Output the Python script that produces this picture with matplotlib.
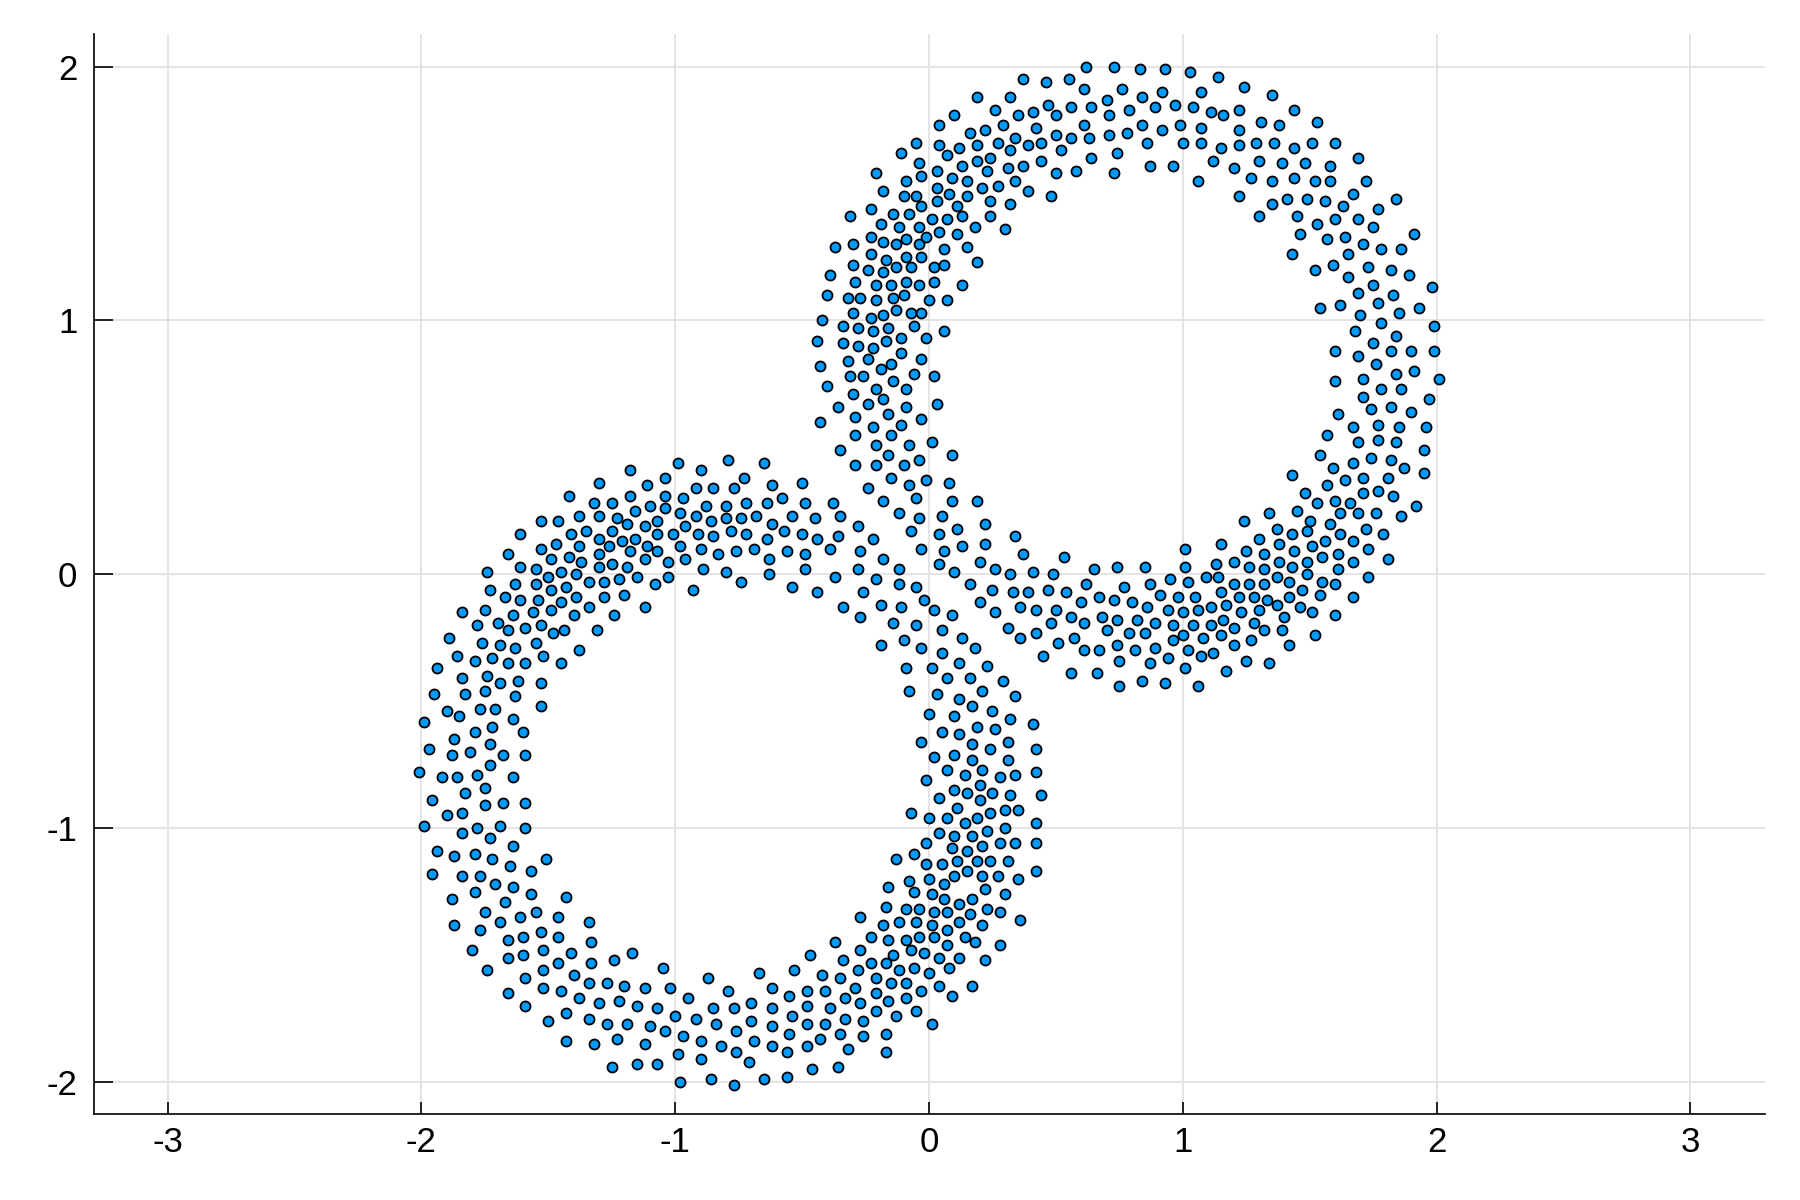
import matplotlib
matplotlib.use("Agg")
import matplotlib.pyplot as plt
import numpy as np

# ---- data: (x, y) of every point, read region by region from the reference ----
top_left = [(0.19,1.88),(0.32,1.88),(0.26,1.83),(0.10,1.81),(0.04,1.77),(0.16,1.74),(0.22,1.75),(0.29,1.77),
(-0.05,1.70),(-0.11,1.66),(0.04,1.69),(0.12,1.68),(0.19,1.69),(0.27,1.70),(0.32,1.67),(0.07,1.65),(-0.04,1.62),
(0.13,1.61),(0.19,1.63),(0.24,1.64),(0.23,1.59),(0.31,1.60),(-0.03,1.57),(0.03,1.59),(-0.21,1.58),(0.09,1.56),
(0.15,1.55),(-0.09,1.55),(-0.18,1.51),(-0.10,1.49),(-0.05,1.49),(0.03,1.52),(0.08,1.50),(0.15,1.49),(0.21,1.52),
(0.27,1.53),(0.24,1.47),(0.32,1.46),(-0.23,1.44),(-0.31,1.41),(-0.03,1.45),(0.03,1.47),(0.11,1.45),(-0.14,1.42),
(-0.08,1.42),(-0.19,1.38),(-0.12,1.37),(-0.04,1.37),(0.01,1.40),(0.07,1.40),(0.13,1.41),(0.18,1.37),(0.24,1.41),
(0.30,1.36),(-0.37,1.29),(-0.30,1.30),(-0.23,1.33),(-0.18,1.31),(-0.13,1.30),(-0.09,1.32),(-0.04,1.30),(-0.01,1.33),
(0.04,1.35),(0.11,1.34),(0.15,1.29),(-0.23,1.26),(-0.17,1.24),(-0.09,1.25),(-0.03,1.25),(0.06,1.28),(0.19,1.23),
(-0.39,1.18),(-0.30,1.22),(-0.24,1.20),(-0.18,1.19),(-0.13,1.21),(-0.07,1.21),(0.02,1.21),(0.06,1.22),(-0.29,1.15),
(-0.21,1.14),(-0.15,1.14),(-0.09,1.15),(-0.04,1.14),(0.02,1.15),(0.13,1.14),(-0.40,1.10),(-0.32,1.09),(-0.27,1.09),
(-0.21,1.08),(-0.14,1.09),(-0.10,1.10),(0.00,1.08),(0.07,1.08),(-0.42,1.00),(-0.30,1.03),(-0.23,1.01),(-0.18,1.02),
(-0.13,1.04),(-0.07,1.03),(-0.03,1.03),(-0.34,0.98),(-0.28,0.97),(-0.22,0.96),(-0.16,0.97),(-0.06,0.98),(0.06,0.96),
(-0.44,0.92),(-0.34,0.91),(-0.28,0.90),(-0.22,0.89),(-0.17,0.92),(-0.11,0.93),(-0.01,0.93),(-0.43,0.82),(-0.32,0.84),
(-0.24,0.85),(-0.19,0.81),(-0.15,0.83),(-0.11,0.87),(-0.03,0.85),(-0.06,0.79)]

top_mid = [(0.37,1.95),(0.46,1.94),(0.55,1.95),(0.62,2.00),(0.73,2.00),(0.83,1.99),(0.93,1.99),(1.03,1.98),
(1.14,1.96),(0.61,1.91),(0.76,1.91),(0.92,1.90),(1.07,1.90),(0.47,1.85),(0.41,1.82),(0.35,1.81),(0.50,1.81),
(0.56,1.84),(0.64,1.84),(0.70,1.87),(0.71,1.81),(0.79,1.83),(0.84,1.88),(0.89,1.84),(0.97,1.85),(1.04,1.84),
(1.11,1.82),(1.16,1.81),(0.42,1.76),(0.61,1.77),(0.84,1.77),(0.92,1.75),(0.99,1.77),(1.07,1.76),(0.34,1.72),
(0.39,1.69),(0.44,1.70),(0.50,1.73),(0.56,1.72),(0.63,1.72),(0.71,1.73),(0.78,1.74),(0.52,1.67),(0.64,1.64),
(0.74,1.66),(0.86,1.70),(1.00,1.70),(1.07,1.70),(1.15,1.68),(0.37,1.61),(0.44,1.63),(0.50,1.58),(0.58,1.59),
(0.73,1.58),(0.87,1.61),(0.96,1.61),(1.12,1.63),(0.34,1.55),(1.06,1.55),(0.39,1.51),(0.48,1.49)]

top_right = [(1.24,1.92),(1.35,1.89),(1.22,1.83),(1.44,1.83),(1.31,1.78),(1.38,1.77),(1.53,1.78),(1.22,1.75),
(1.22,1.69),(1.29,1.70),(1.36,1.70),(1.44,1.68),(1.51,1.70),(1.60,1.70),(1.69,1.64),(1.20,1.60),(1.30,1.63),
(1.39,1.62),(1.48,1.62),(1.58,1.61),(1.27,1.56),(1.35,1.55),(1.44,1.56),(1.52,1.55),(1.58,1.55),(1.72,1.55),
(1.22,1.49),(1.35,1.46),(1.41,1.48),(1.49,1.48),(1.56,1.47),(1.63,1.45),(1.67,1.50),(1.77,1.44),(1.84,1.48),
(1.30,1.41),(1.45,1.41),(1.53,1.38),(1.60,1.40),(1.69,1.40),(1.75,1.37),(1.46,1.34),(1.57,1.32),(1.64,1.33),
(1.71,1.30),(1.78,1.28),(1.86,1.28),(1.91,1.34),(1.43,1.26),(1.52,1.20),(1.59,1.22),(1.65,1.26),(1.73,1.21),
(1.82,1.20),(1.89,1.18),(1.65,1.17),(1.75,1.14),(1.69,1.11),(1.83,1.10),(1.98,1.13),(1.54,1.05),(1.62,1.06),
(1.77,1.07),(1.85,1.03),(1.93,1.05),(1.70,1.02),(1.78,0.99),(1.99,0.98),(1.68,0.96),(1.84,0.94),(1.75,0.91),
(1.60,0.88),(1.69,0.86),(1.76,0.83),(1.82,0.88),(1.90,0.88),(1.99,0.88),(1.84,0.79),(1.91,0.80)]

right_side = [(1.60,0.76),(1.71,0.77),(2.01,0.77),(1.71,0.70),(1.78,0.73),(1.86,0.73),(1.97,0.69),(1.61,0.63),
(1.74,0.65),(1.82,0.66),(1.90,0.64),(1.67,0.58),(1.77,0.59),(1.85,0.58),(1.96,0.58),(1.57,0.55),(1.69,0.52),
(1.77,0.53),(1.84,0.52),(1.95,0.49),(1.54,0.47),(1.67,0.44),(1.74,0.46),(1.82,0.45),(1.87,0.42),(1.95,0.40),
(1.43,0.39),(1.59,0.42),(1.64,0.37),(1.71,0.38),(1.81,0.38),(1.57,0.35),(1.71,0.32),(1.77,0.33),(1.83,0.31),
(1.48,0.32),(1.53,0.28),(1.60,0.29),(1.66,0.28),(1.92,0.27),(1.34,0.24),(1.45,0.25),(1.50,0.21),(1.62,0.24),
(1.69,0.24),(1.76,0.24),(1.86,0.23),(1.24,0.21),(1.37,0.18),(1.43,0.16),(1.49,0.17),(1.58,0.20),(1.62,0.16),
(1.72,0.18),(1.79,0.16),(1.30,0.14),(1.38,0.12),(1.51,0.11),(1.56,0.13),(1.67,0.13),(1.73,0.10),(1.25,0.09),
(1.32,0.08),(1.44,0.09),(1.61,0.08),(1.81,0.06),(1.20,0.05),(1.26,0.03),(1.32,0.02),(1.38,0.05),(1.43,0.03),
(1.49,0.05),(1.55,0.07),(1.49,0.00),(1.61,0.02),(1.67,0.05),(1.73,-0.01),(1.20,-0.04),(1.26,-0.04),(1.32,-0.04),
(1.37,-0.01),(1.42,-0.03),(1.55,-0.03),(1.60,-0.04),(1.22,-0.09),(1.28,-0.09),(1.33,-0.10),(1.42,-0.09),
(1.47,-0.06),(1.54,-0.08),(1.67,-0.09),(1.17,-0.12),(1.23,-0.15),(1.30,-0.14),(1.37,-0.12),(1.40,-0.17),
(1.46,-0.13),(1.51,-0.15),(1.60,-0.16),(1.20,-0.21),(1.28,-0.19),(1.32,-0.22),(1.39,-0.22),(1.27,-0.26),
(1.20,-0.28),(1.42,-0.28),(1.52,-0.24),(1.25,-0.34),(1.34,-0.35),(1.17,-0.38)]

bottom_mid = [(0.37,0.08),(0.53,0.07),(1.01,0.10),(1.15,0.12),(0.41,0.01),(0.49,0.00),(0.65,0.02),(0.74,0.03),
(0.85,0.03),(1.01,0.03),(1.13,0.04),(0.39,-0.07),(0.47,-0.06),(0.54,-0.07),(0.62,-0.04),(0.77,-0.05),(0.87,-0.04),
(0.95,-0.02),(1.02,-0.03),(1.09,-0.01),(1.14,-0.01),(1.15,-0.07),(0.67,-0.09),(0.73,-0.10),(0.80,-0.11),
(0.91,-0.08),(0.98,-0.09),(1.05,-0.09),(0.36,-0.13),(0.42,-0.14),(0.50,-0.14),(0.60,-0.11),(0.86,-0.13),
(0.94,-0.14),(1.00,-0.15),(1.06,-0.14),(1.11,-0.13),(0.48,-0.19),(0.56,-0.17),(0.61,-0.19),(0.68,-0.17),
(0.74,-0.18),(0.82,-0.18),(0.89,-0.19),(0.96,-0.20),(1.04,-0.20),(1.11,-0.20),(1.16,-0.18),(0.36,-0.25),
(0.42,-0.23),(0.51,-0.27),(0.57,-0.25),(0.70,-0.22),(0.79,-0.23),(0.85,-0.23),(1.00,-0.24),(1.08,-0.25),
(1.15,-0.24),(0.61,-0.30),(0.67,-0.30),(0.74,-0.28),(0.81,-0.30),(0.89,-0.29),(0.96,-0.26),(1.02,-0.30),
(1.07,-0.32),(1.12,-0.31),(0.45,-0.32),(0.75,-0.34),(0.87,-0.35),(0.94,-0.33),(0.56,-0.39),(0.66,-0.39),
(1.01,-0.37),(0.75,-0.44),(0.84,-0.42),(0.93,-0.43),(1.06,-0.44),(0.34,-0.48)]

centre_upper = [(-0.31,0.78),(-0.26,0.78),(-0.14,0.76),(0.02,0.78),(-0.40,0.74),(-0.21,0.73),(-0.09,0.73),
(-0.30,0.71),(-0.18,0.69),(-0.36,0.66),(-0.24,0.67),(-0.09,0.66),(0.03,0.67),(-0.43,0.60),(-0.29,0.62),
(-0.16,0.63),(-0.22,0.58),(-0.11,0.59),(-0.03,0.61),(-0.29,0.55),(-0.15,0.55),(-0.35,0.49),(-0.21,0.51),
(-0.08,0.51),(0.01,0.52),(0.09,0.47),(-0.29,0.43),(-0.21,0.43),(-0.16,0.47),(-0.10,0.43),(-0.04,0.45),
(-0.24,0.34),(-0.15,0.38),(-0.08,0.35),(-0.01,0.37),(0.08,0.36),(-0.18,0.29),(-0.05,0.30),(0.09,0.29),
(0.19,0.29),(-0.12,0.24),(-0.04,0.22),(0.05,0.23),(0.11,0.18),(0.22,0.20),(-0.07,0.17),(0.04,0.16),(0.34,0.15),
(-0.03,0.10),(0.06,0.09),(0.13,0.11),(0.22,0.12),(0.04,0.04),(0.20,0.05),(0.26,0.02),(0.32,0.00),(0.10,0.01),
(0.16,-0.04),(0.25,-0.06),(0.33,-0.07),(0.20,-0.11),(0.26,-0.15),(0.31,-0.21)]

centre_lower = [(-0.38,0.28),(-0.45,0.22),(-0.35,0.23),(-0.28,0.19),(-0.44,0.14),(-0.36,0.15),(-0.22,0.14),
(-0.39,0.10),(-0.27,0.09),(-0.18,0.06),(-0.28,0.02),(-0.12,0.02),(-0.37,-0.01),(-0.21,-0.02),(-0.12,-0.04),
(-0.05,-0.05),(-0.44,-0.07),(-0.26,-0.07),(-0.02,-0.10),(-0.34,-0.13),(-0.19,-0.12),(-0.11,-0.13),(0.02,-0.14),
(0.09,-0.16),(-0.27,-0.17),(-0.14,-0.19),(-0.05,-0.20),(0.05,-0.22),(-0.19,-0.28),(-0.10,-0.26),(-0.03,-0.29),
(0.05,-0.31),(0.13,-0.25),(0.18,-0.29),(-0.09,-0.37),(0.01,-0.37),(0.12,-0.35),(0.23,-0.36),(0.07,-0.41),
(0.16,-0.41),(0.29,-0.42),(-0.08,-0.46),(0.03,-0.47),(0.12,-0.49),(0.21,-0.46)]

lower_top = [(-0.79,0.45),(-0.65,0.44),(-0.99,0.44),(-1.18,0.41),(-0.90,0.41),(-1.04,0.38),(-0.73,0.38),
(-1.30,0.36),(-1.11,0.35),(-0.62,0.35),(-0.50,0.36),(-0.92,0.34),(-0.85,0.34),(-0.77,0.34),(-0.58,0.30),
(-1.42,0.31),(-1.18,0.31),(-1.04,0.31),(-0.97,0.30),(-1.32,0.28),(-1.25,0.28),(-1.10,0.27),(-1.04,0.26),
(-0.88,0.27),(-0.80,0.27),(-0.72,0.28),(-0.64,0.28),(-0.49,0.28),(-1.38,0.23),(-1.30,0.23),(-1.23,0.22),
(-1.16,0.25),(-1.07,0.21),(-0.98,0.24),(-0.92,0.23),(-0.86,0.21),(-0.80,0.22),(-0.74,0.22),(-0.68,0.23),
(-0.62,0.20),(-0.54,0.23),(-1.53,0.21),(-1.46,0.21),(-1.41,0.16),(-1.35,0.17),(-1.25,0.17),(-1.19,0.20),
(-1.12,0.19),(-1.07,0.16),(-1.01,0.16),(-0.96,0.19),(-0.91,0.16),(-0.85,0.15),(-0.78,0.17),(-0.72,0.16),
(-0.64,0.14),(-0.57,0.17),(-0.50,0.16),(-1.61,0.16),(-1.53,0.10),(-1.47,0.12),(-1.38,0.11),(-1.30,0.14),
(-1.26,0.11),(-1.21,0.13),(-1.16,0.14),(-1.11,0.11),(-1.18,0.09),(-1.07,0.09),(-0.98,0.11),(-0.90,0.10),
(-0.83,0.08),(-0.76,0.09),(-0.69,0.10),(-0.63,0.06),(-0.56,0.09),(-0.49,0.08),(-1.66,0.08),(-1.49,0.06),
(-1.42,0.07),(-1.37,0.05),(-1.30,0.08),(-1.25,0.04),(-1.12,0.06),(-1.03,0.05),(-0.96,0.06),(-1.74,0.01),
(-1.61,0.03),(-1.55,0.02),(-1.50,-0.01),(-1.45,0.01),(-1.39,0.00),(-1.30,0.03),(-1.19,0.03),(-0.89,0.02),
(-0.80,0.01),(-0.63,0.00),(-0.49,0.02),(-1.73,-0.06),(-1.63,-0.04),(-1.55,-0.04),(-1.49,-0.06),(-1.43,-0.05),
(-1.34,-0.03),(-1.28,-0.03),(-1.22,-0.02),(-1.15,-0.01),(-1.08,-0.04),(-1.03,-0.01),(-0.93,-0.06),(-0.74,-0.03),
(-0.54,-0.05),(-1.67,-0.09),(-1.61,-0.10),(-1.54,-0.10),(-1.45,-0.11),(-1.39,-0.09),(-1.28,-0.09),(-1.20,-0.08),
(-1.12,-0.13),(-1.84,-0.15),(-1.75,-0.14),(-1.64,-0.16),(-1.56,-0.15),(-1.49,-0.14),(-1.40,-0.16),(-1.34,-0.13),
(-1.24,-0.16),(-1.78,-0.20),(-1.70,-0.19),(-1.66,-0.22),(-1.59,-0.21),(-1.53,-0.20),(-1.48,-0.23),(-1.44,-0.22),
(-1.31,-0.22),(-1.89,-0.25),(-1.76,-0.27),(-1.69,-0.28),(-1.63,-0.29),(-1.55,-0.27),(-1.38,-0.30),(-1.86,-0.32),
(-1.79,-0.34),(-1.72,-0.33),(-1.66,-0.35),(-1.59,-0.35),(-1.52,-0.32),(-1.45,-0.35),(-1.94,-0.37),(-1.84,-0.41),
(-1.74,-0.40),(-1.69,-0.43),(-1.62,-0.42),(-1.53,-0.43),(-1.95,-0.47),(-1.83,-0.47),(-1.75,-0.46),(-1.63,-0.48),
(-1.90,-0.54),(-1.85,-0.56),(-1.77,-0.53),(-1.71,-0.53),(-1.64,-0.57),(-1.53,-0.52),(-1.99,-0.58),(-1.87,-0.65),
(-1.79,-0.62),(-1.72,-0.60),(-1.60,-0.62),(-1.97,-0.69),(-1.88,-0.71),(-1.81,-0.70),(-1.73,-0.67),(-1.68,-0.71),
(-1.59,-0.71),(-1.73,-0.75)]

lower_left = [(-2.01,-0.78),(-1.92,-0.80),(-1.86,-0.80),(-1.78,-0.79),(-1.64,-0.80),(-1.83,-0.86),(-1.75,-0.84),
(-1.96,-0.89),(-1.75,-0.91),(-1.68,-0.90),(-1.59,-0.90),(-1.90,-0.95),(-1.84,-0.94),(-1.99,-0.99),(-1.78,-1.00),
(-1.69,-0.99),(-1.59,-1.00),(-1.84,-1.02),(-1.73,-1.04),(-1.64,-1.07),(-1.94,-1.09),(-1.87,-1.11),(-1.79,-1.10),
(-1.72,-1.12),(-1.65,-1.15),(-1.51,-1.12),(-1.96,-1.18),(-1.84,-1.19),(-1.77,-1.19),(-1.57,-1.17),(-1.71,-1.22),
(-1.64,-1.23),(-1.57,-1.26),(-1.43,-1.27),(-1.88,-1.28),(-1.79,-1.25),(-1.67,-1.29),(-1.75,-1.33),(-1.61,-1.35),
(-1.55,-1.33),(-1.46,-1.35),(-1.34,-1.37),(-1.87,-1.38),(-1.77,-1.40),(-1.69,-1.37),(-1.53,-1.41),(-1.46,-1.43),
(-1.66,-1.44),(-1.60,-1.43),(-1.33,-1.45),(-1.80,-1.48),(-1.66,-1.51),(-1.60,-1.50),(-1.52,-1.48),(-1.41,-1.49),
(-1.46,-1.53),(-1.33,-1.53),(-1.24,-1.52),(-1.17,-1.49),(-1.74,-1.56),(-1.59,-1.59),(-1.52,-1.56),(-1.40,-1.58),
(-1.52,-1.63),(-1.45,-1.64),(-1.34,-1.61),(-1.27,-1.61),(-1.20,-1.62),(-1.66,-1.65),(-1.38,-1.67),(-1.30,-1.69),
(-1.22,-1.68),(-1.59,-1.70),(-1.43,-1.73),(-1.34,-1.75),(-1.27,-1.77),(-1.19,-1.77),(-1.50,-1.76),(-1.43,-1.84),
(-1.32,-1.85),(-1.23,-1.83),(-1.25,-1.94)]

lower_bottom = [(-1.05,-1.55),(-0.87,-1.59),(-0.67,-1.57),(-0.53,-1.56),(-1.12,-1.63),(-1.02,-1.63),(-0.95,-1.67),
(-0.79,-1.64),(-0.62,-1.63),(-0.55,-1.66),(-1.15,-1.70),(-1.07,-1.71),(-1.00,-1.74),(-0.92,-1.75),(-0.85,-1.71),
(-0.77,-1.71),(-0.70,-1.69),(-0.62,-1.71),(-0.54,-1.74),(-1.10,-1.78),(-1.04,-1.80),(-0.97,-1.82),(-0.84,-1.77),
(-0.76,-1.80),(-0.70,-1.76),(-0.62,-1.78),(-0.55,-1.81),(-1.12,-1.85),(-0.90,-1.84),(-0.82,-1.86),(-0.76,-1.88),
(-0.69,-1.84),(-0.62,-1.86),(-0.56,-1.88),(-1.15,-1.93),(-1.07,-1.93),(-0.99,-1.89),(-0.90,-1.91),(-0.71,-1.92),
(-0.98,-2.00),(-0.86,-1.99),(-0.77,-2.01),(-0.65,-1.99),(-0.56,-1.98)]

lower_right = [(0.17,-0.52),(0.25,-0.54),(0.00,-0.55),(0.10,-0.56),(0.32,-0.57),(0.41,-0.59),(0.05,-0.62),
(0.12,-0.63),(0.19,-0.60),(0.26,-0.61),(-0.03,-0.66),(0.17,-0.67),(0.24,-0.69),(0.31,-0.66),(0.42,-0.69),
(0.02,-0.72),(0.10,-0.71),(0.17,-0.73),(0.31,-0.73),(0.07,-0.77),(0.14,-0.79),(0.21,-0.77),(0.28,-0.80),
(0.34,-0.79),(0.42,-0.78),(-0.01,-0.81),(0.10,-0.85),(0.15,-0.86),(0.20,-0.83),(0.25,-0.86),(0.32,-0.87),
(0.44,-0.87),(0.04,-0.88),(-0.07,-0.94),(0.00,-0.96),(0.07,-0.96),(0.11,-0.92),(0.14,-0.98),(0.19,-0.96),
(0.20,-0.89),(0.24,-0.94),(0.30,-0.93),(0.35,-0.93),(0.42,-0.98),(0.04,-1.02),(0.10,-1.03),(0.17,-1.03),
(0.23,-1.01),(0.30,-1.00),(-0.01,-1.06),(0.09,-1.08),(0.15,-1.09),(0.21,-1.07),(0.28,-1.06),(0.34,-1.06),
(0.42,-1.06),(-0.13,-1.12),(-0.06,-1.10),(-0.01,-1.14),(0.05,-1.14),(0.11,-1.13),(0.19,-1.13),(0.24,-1.13),
(0.31,-1.13),(0.42,-1.17),(-0.16,-1.23),(-0.08,-1.21),(-0.06,-1.25),(0.00,-1.20),(0.06,-1.22),(0.10,-1.19),
(0.15,-1.17),(0.21,-1.19),(0.22,-1.24),(0.27,-1.19),(0.35,-1.20),(0.30,-1.26),(0.01,-1.26),(0.06,-1.28),
(0.12,-1.30),(0.17,-1.28),(-0.17,-1.31),(-0.09,-1.32),(-0.04,-1.32),(0.02,-1.33),(0.07,-1.33),(0.16,-1.34),
(0.23,-1.32),(0.28,-1.33),(0.36,-1.36),(-0.27,-1.35),(-0.18,-1.38),(-0.12,-1.37),(-0.05,-1.37),(0.01,-1.38),
(0.07,-1.40),(0.12,-1.37),(0.21,-1.38),(-0.37,-1.45),(-0.23,-1.43),(-0.16,-1.44),(-0.09,-1.44),(-0.04,-1.43),
(0.02,-1.43),(0.07,-1.46),(0.14,-1.43),(0.18,-1.45),(0.28,-1.46),(-0.47,-1.50),(-0.27,-1.48),(-0.34,-1.52),
(-0.23,-1.53),(-0.17,-1.53),(-0.14,-1.50),(-0.07,-1.48),(-0.02,-1.49),(0.04,-1.51),(0.12,-1.51),(0.22,-1.52),
(-0.42,-1.58),(-0.35,-1.59),(-0.28,-1.56),(-0.21,-1.59),(-0.12,-1.56),(-0.06,-1.55),(0.00,-1.57),(0.08,-1.55),
(-0.48,-1.64),(-0.41,-1.64),(-0.29,-1.63),(-0.21,-1.65),(-0.15,-1.61),(-0.09,-1.61),(-0.03,-1.64),(0.04,-1.62),
(0.09,-1.66),(0.17,-1.62),(-0.48,-1.70),(-0.39,-1.71),(-0.33,-1.67),(-0.27,-1.69),(-0.21,-1.72),(-0.16,-1.68),
(-0.09,-1.67),(-0.05,-1.72),(-0.48,-1.77),(-0.41,-1.77),(-0.33,-1.75),(-0.26,-1.76),(-0.13,-1.74),(0.01,-1.77),
(-0.43,-1.83),(-0.48,-1.86),(-0.35,-1.81),(-0.26,-1.82),(-0.17,-1.81),(-0.32,-1.87),(-0.17,-1.88),(-0.46,-1.95),
(-0.36,-1.94)]

x_ticks = [-3, -2, -1, 0, 1, 2, 3]
y_ticks = [-2, -1, 0, 1, 2]
x_range = (-3.29, 3.292)
y_range = (-2.126, 2.127)

# ---- style ----
plt.rcParams['font.family'] = ['Liberation Sans', 'DejaVu Sans']
plt.rcParams['axes.unicode_minus'] = False

fig = plt.figure(figsize=(18, 12), dpi=100)
ax = fig.add_axes([94/1800, 1 - 1114/1200, (1764.5 - 94)/1800, (1114 - 34.4)/1200])

regions = [top_left, top_mid, top_right, right_side, bottom_mid, centre_upper,
           centre_lower, lower_top, lower_left, lower_bottom, lower_right]
pts = np.array([p for r in regions for p in r])
ax.scatter(pts[:, 0], pts[:, 1], s=52, facecolor='#009afa', edgecolor='black',
           linewidths=1.3, zorder=3)

ax.set_xlim(*x_range)
ax.set_ylim(*y_range)
ax.set_xticks(x_ticks)
ax.set_yticks(y_ticks)
ax.set_xticklabels([str(v) for v in x_ticks])
ax.set_yticklabels([str(v) for v in y_ticks])

ax.grid(True, color='#e2e2e2', linewidth=1.3, zorder=0)
ax.set_axisbelow(True)
for s in ['top', 'right']:
    ax.spines[s].set_visible(False)
for s in ['left', 'bottom']:
    ax.spines[s].set_linewidth(1.2)
    ax.spines[s].set_color('black')
ax.tick_params(axis='x', direction='in', length=9, width=1.2, labelsize=25, pad=9)
ax.tick_params(axis='y', direction='in', length=14, width=1.2, labelsize=25, pad=12)

fig.savefig('out.png', dpi=100)
